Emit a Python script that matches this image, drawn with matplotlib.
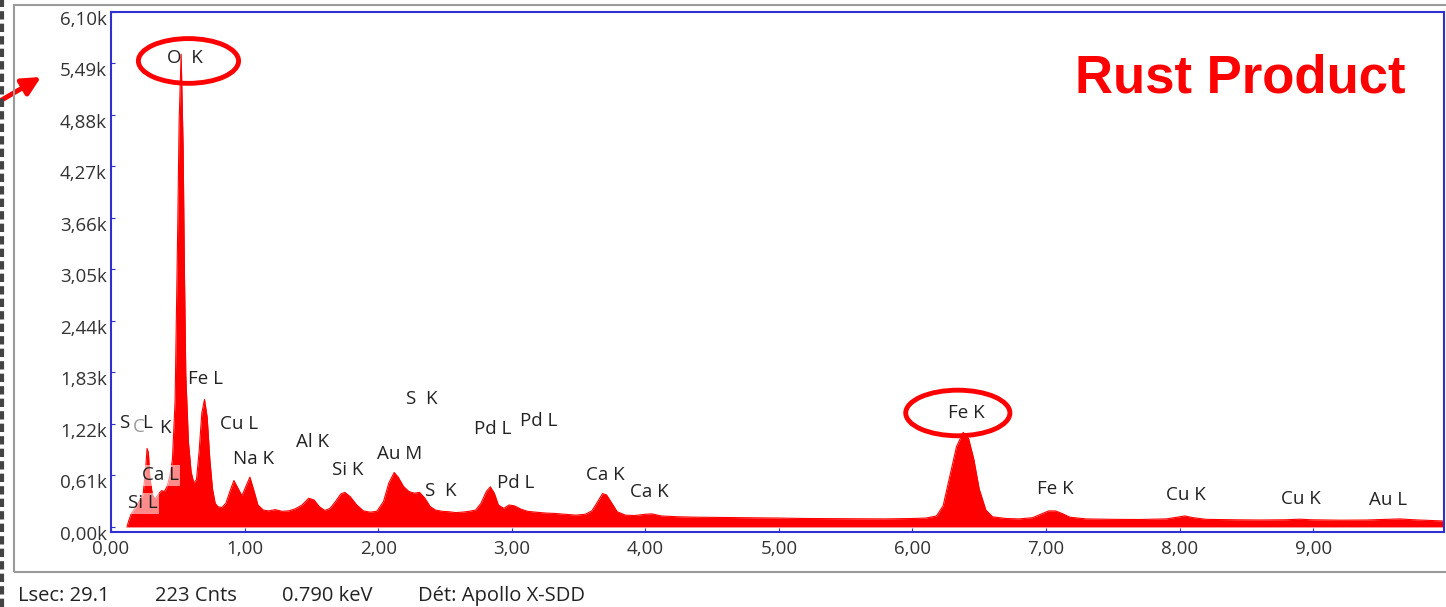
import numpy as np
import matplotlib.pyplot as plt
from matplotlib.patches import Ellipse, Rectangle
import matplotlib.transforms as mtransforms

plt.rcParams['font.family'] = ['Open Sans', 'DejaVu Sans']

# spectrum (keV, counts)
energy = [0.12, 0.13, 0.15, 0.18, 0.21, 0.24, 0.26, 0.27, 0.28, 0.29, 0.31, 0.33, 0.36, 0.38,
          0.40, 0.42, 0.44, 0.46, 0.48, 0.50, 0.51, 0.525, 0.54, 0.55, 0.56, 0.58, 0.60, 0.62,
          0.64, 0.66, 0.68, 0.70, 0.72, 0.74, 0.76, 0.78, 0.80, 0.83, 0.86, 0.89, 0.92, 0.95,
          0.98, 1.01, 1.04, 1.07, 1.10, 1.14, 1.18, 1.23, 1.28, 1.33, 1.38, 1.43, 1.48, 1.52,
          1.56, 1.60, 1.64, 1.68, 1.72, 1.75, 1.79, 1.84, 1.89, 1.94, 1.99, 2.04, 2.08, 2.12,
          2.15, 2.19, 2.23, 2.27, 2.31, 2.35, 2.39, 2.43, 2.48, 2.53, 2.58, 2.63, 2.68, 2.73,
          2.77, 2.81, 2.84, 2.87, 2.90, 2.94, 2.98, 3.02, 3.07, 3.12, 3.18, 3.25, 3.32, 3.40,
          3.48, 3.55, 3.60, 3.64, 3.68, 3.71, 3.75, 3.79, 3.85, 3.92, 4.00, 4.05, 4.12, 4.25,
          4.40, 4.60, 4.80, 5.00, 5.20, 5.40, 5.60, 5.80, 6.00, 6.10, 6.18, 6.23, 6.28, 6.33,
          6.38, 6.42, 6.46, 6.50, 6.55, 6.60, 6.70, 6.80, 6.90, 6.96, 7.02, 7.07, 7.12, 7.18,
          7.30, 7.50, 7.70, 7.90, 7.98, 8.04, 8.10, 8.20, 8.40, 8.60, 8.80, 8.90, 8.98, 9.20,
          9.40, 9.55, 9.65, 9.75, 9.90, 9.98]
counts = [0, 60, 150, 220, 300, 380, 700, 930, 880, 600, 380, 330, 400, 430,
          420, 480, 600, 800, 1500, 3600, 4800, 5600, 4500, 3000, 1800, 1000, 650, 520,
          560, 900, 1350, 1510, 1300, 800, 450, 280, 240, 230, 280, 420, 550, 460,
          370, 480, 590, 430, 260, 200, 190, 205, 185, 190, 215, 260, 340, 320,
          240, 195, 220, 300, 390, 410, 360, 260, 190, 175, 185, 300, 520, 645,
          590, 480, 420, 400, 410, 340, 240, 200, 185, 180, 170, 175, 185, 200,
          280, 420, 475, 400, 260, 220, 260, 250, 210, 185, 175, 165, 160, 150,
          140, 150, 190, 290, 395, 380, 280, 180, 140, 135, 150, 155, 130, 120,
          115, 112, 108, 105, 100, 98, 96, 95, 100, 105, 130, 250, 600, 950,
          1120, 1050, 800, 450, 200, 120, 100, 95, 110, 150, 190, 190, 160, 115,
          95, 90, 88, 95, 115, 130, 110, 90, 85, 82, 85, 92, 85, 80,
          82, 90, 95, 85, 75, 70]

y_ticks = [0, 610, 1220, 1830, 2440, 3050, 3660, 4270, 4880, 5490, 6100]
x_ticks = [0, 1, 2, 3, 4, 5, 6, 7, 8, 9]

# peak labels: (text, keV, counts)
peak_labels = [("O  K", 0.55, 5560), ("Fe L", 0.71, 1750), ("Cu L", 0.96, 1220),
               ("Na K", 1.07, 800), ("Al K", 1.51, 1010), ("Si K", 1.77, 680),
               ("Au M", 2.16, 860), ("S  K", 2.33, 1510), ("S  K", 2.47, 420),
               ("Pd L", 2.86, 1160), ("Pd L", 3.20, 1255), ("Pd L", 3.03, 515),
               ("Ca K", 3.70, 610), ("Ca K", 4.03, 410), ("Fe K", 6.40, 1350),
               ("Fe K", 7.07, 445), ("Cu K", 8.05, 375), ("Cu K", 8.91, 330),
               ("Au L", 9.56, 315), ("S", 0.10, 1230), ("L", 0.27, 1235), ("K", 0.40, 1175)]
boxed_labels = [("Ca L", 0.37, 610), ("Si L", 0.24, 280)]

W, H = 1446, 607
fs = 13.5
fig = plt.figure(figsize=(W / 100, H / 100), dpi=100)
ax = fig.add_axes([111 / W, 1 - 532 / H, (1444 - 111) / W, (532 - 12) / H])

ax.fill_between(energy, counts, 0, color='#ff0000', lw=0)
ax.plot(energy, counts, color='#ff0000', lw=0.8)

ax.set_xlim(0, 9.98)
ax.set_ylim(-60, 6100)
ax.set_xticks(x_ticks)
ax.set_xticklabels([f"{v:.2f}".replace('.', ',') for v in x_ticks])
ax.set_yticks(y_ticks)
ax.set_yticklabels([f"{v / 1000:.2f}k".replace('.', ',') for v in y_ticks])
ax.tick_params(direction='in', length=3, color='#3030d0', labelsize=13.5, labelcolor='#333333', pad=3)
ax.tick_params(axis='x', pad=6)
for lbl in ax.get_yticklabels():
    lbl.set_transform(lbl.get_transform() + mtransforms.ScaledTranslation(0, -6 / 100, fig.dpi_scale_trans))
for sp in ax.spines.values():
    sp.set_color('#3030d0')
    sp.set_linewidth(1.5)

for txt, x, y in peak_labels:
    ax.text(x, y, txt, ha='center', va='center', fontsize=fs, color='#222222')
for txt, x, y in boxed_labels:
    ax.text(x, y, txt, ha='center', va='center', fontsize=fs, color='#222222',
            bbox=dict(facecolor='white', alpha=0.55, edgecolor='none', pad=1))
ax.text(0.21, 1180, "C", ha='center', va='center', fontsize=fs, color='#999999')

ax.add_patch(Ellipse((0.58, 5520), 0.75, 530, fill=False, edgecolor='#ff0000', lw=3.5, clip_on=False))
ax.add_patch(Ellipse((6.34, 1350), 0.78, 540, fill=False, edgecolor='#ff0000', lw=3.5, clip_on=False))

ax.text(0.847, 0.873, "Rust Product", transform=ax.transAxes, ha='center', va='center',
        fontsize=38, fontweight='bold', color='#ff0000', family=['Liberation Sans', 'DejaVu Sans'])

# outer grey window frame and status line
fig.patches.append(Rectangle((14 / W, 1 - 572 / H), 1.1, (572 - 5) / H, transform=fig.transFigure,
                             fill=False, edgecolor='#9a9a9a', lw=1.5))
fig.add_artist(plt.Line2D([1.5 / W, 1.5 / W], [0, 1], color='#444444', lw=3, ls=(0, (2, 1))))
for txt, px in [("Lsec: 29.1", 18), ("223 Cnts", 155), ("0.790 keV", 282), ("Dét: Apollo X-SDD", 418)]:
    fig.text(px / W, 1 - 596 / H, txt, ha='left', va='center', fontsize=14.5, color='#222222')

ax.annotate("", xy=(41 / W, 1 - 77 / H), xytext=(0, 1 - 101 / H), xycoords='figure fraction',
            textcoords='figure fraction',
            arrowprops=dict(arrowstyle='-|>,head_width=0.55,head_length=1.1', color='#ff0000', lw=3.5,
                            shrinkA=0, shrinkB=0))

fig.savefig("out.png", dpi=100)
